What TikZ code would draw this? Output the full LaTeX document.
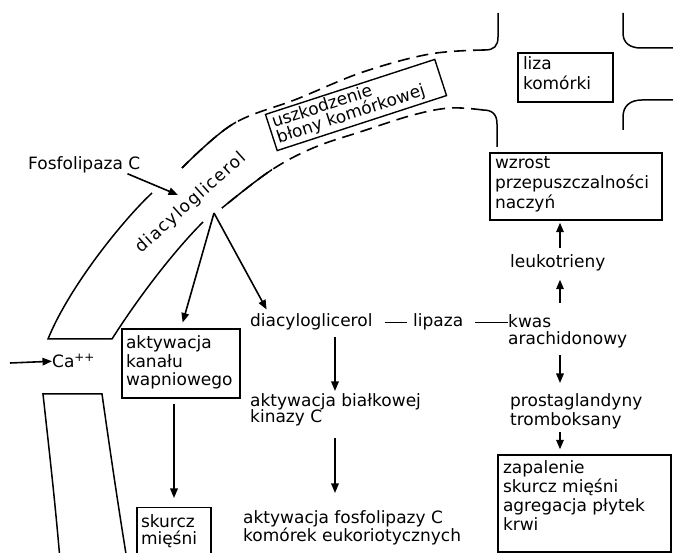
\documentclass[tikz,border=0pt]{standalone}
\usepackage{fontspec}
\setmainfont{DejaVu Sans}
\usetikzlibrary{arrows.meta}
\newcommand\bxt[4]{\parbox[c][#2][t]{#1}{\raggedright\fontsize{17pt}{#3}\selectfont #4\par}}
\begin{document}
\begin{tikzpicture}[x=1pt,y=-1pt,
  every node/.style={font=\fontsize{17pt}{18.5pt}\selectfont, inner sep=0pt},
  arr/.style={-{Triangle[length=9.5pt,width=7.5pt]}, line width=1.6pt},
  ln/.style={line width=1.5pt},
  dsh/.style={line width=1.6pt, dash pattern=on 12pt off 7pt},
  bx/.style={draw, line width=1.4pt, inner xsep=5pt, inner ysep=4pt},
  txt/.style={align=left, anchor=north west}]
\useasboundingbox (0,0) rectangle (673,553);
% membrane, outer
\draw[ln] (498,13) -- (498,37) .. controls (498,46) and (494,50) .. (485,50);
\draw[dsh] plot[smooth, tension=0.6] coordinates {(485,50) (430,54) (363,72) (297,99) (233,124) (182,168)};
\begin{scope}
\clip (0,100) rectangle (236,200);
\draw[ln] plot[smooth, tension=0.6] coordinates {(485,50) (430,54) (363,72) (297,99) (233,124) (182,168)};
\end{scope}
\draw[ln] (152,193) .. controls (125,218) and (70,285) .. (48,339) -- (112,339) .. controls (140,295) and (175,250) .. (203,222);
% membrane, inner
\draw[ln] (497,147) -- (497,124) .. controls (497,114) and (492,110) .. (483,110);
\draw[dsh] plot[smooth, tension=0.6] coordinates {(483,110) (450,108) (413,115) (363,131) (313,148) (270,171) (222,208)};
\begin{scope}
\clip (0,160) rectangle (272,260);
\draw[ln] plot[smooth, tension=0.6] coordinates {(483,110) (450,108) (413,115) (363,131) (313,148) (270,171) (222,208)};
\end{scope}
% lower band
\draw[ln] (60,560) .. controls (55,500) and (48,440) .. (43,394) -- (102,394) .. controls (110,450) and (118,505) .. (127,560);
% right membrane
\draw[ln] (623,13) -- (623,33) .. controls (623,43) and (630,48) .. (641,48) -- (675,48);
\draw[ln] (623,130) -- (623,117) .. controls (623,106) and (630,100) .. (642,100) -- (675,100);

% nodes
\node[anchor=base west] (fosf) at (28,170) {Fosfolipaza C};
\node[rotate=42] (dgr) at (191,203) {\addfontfeature{LetterSpace=8}diacyloglicerol};
\node[bx, rotate=18, inner xsep=4pt, inner ysep=2.5pt] (usz) at (356,105) {\bxt{170pt}{33pt}{16pt}{uszkodzenie\\błony komórkowej}};
\node[bx] (liza) at (565.5,77.5) {\bxt{85pt}{41pt}{20pt}{liza\\komórki}};
\node[bx] (wzr) at (576,186.5) {\bxt{162pt}{59pt}{20pt}{wzrost\\przepuszczalności\\naczyń}};
\node[anchor=base west] (leuk) at (510,268) {leukotrieny};
\node[txt, font=\fontsize{17pt}{17pt}\selectfont] (kwas) at (508,314) {kwas\\arachidonowy};
\node[txt, font=\fontsize{17pt}{19pt}\selectfont] (prost) at (510,393) {prostaglandyny\\tromboksany};
\node[bx, inner ysep=6pt] (zap) at (584.5,503.5) {\bxt{163pt}{85pt}{18.7pt}{zapalenie\\skurcz mięśni\\agregacja płytek\\krwi}};
\node[anchor=base west] (dg2) at (250,327) {diacyloglicerol};
\node[anchor=base west] (lip) at (413,327) {lipaza};
\node[txt, font=\fontsize{17pt}{16.5pt}\selectfont] (bialk) at (250,393) {aktywacja białkowej\\kinazy C};
\node[txt, font=\fontsize{17pt}{17pt}\selectfont] (fosfC) at (243,510) {aktywacja fosfolipazy C\\komórek eukoriotycznych};
\node[bx, inner xsep=4pt, inner ysep=7pt] (kanal) at (181,363.5) {\bxt{110pt}{55pt}{18.5pt}{aktywacja\\kanału\\wapniowego}};
\node[bx, inner xsep=4pt, inner ysep=7pt, anchor=north] (skurcz) at (174,507) {\bxt{66pt}{55pt}{16.5pt}{skurcz\\mięśni}};
\node[anchor=base west] (ca) at (52,368) {Ca\textsuperscript{++}};

% coordinates
\coordinate (dgin) at (178,195);
\coordinate (dgsrc) at (214,213);
\coordinate (castart) at (10,363);
\coordinate (ax) at (335,0);
\coordinate (rx) at (560,0);

% connectors
\draw[arr] ([xshift=-13pt]fosf.south east) -- (dgin);
\draw[arr, shorten >=6pt] (dgsrc) -- (kanal.north);
\draw[arr, shorten >=5pt] (dgsrc) -- ([xshift=19pt]dg2.north west);
\draw[arr, shorten <=5pt, shorten >=9pt] (kanal.south -| skurcz.north) -- (skurcz.north);
\draw[ln, shorten <=12pt, shorten >=6pt] (dg2.east) -- (lip.west);
\draw[ln, shorten <=12pt] (lip.east) -- (lip.east -| kwas.west);
\draw[arr, shorten <=6pt, shorten >=2pt] (dg2.south -| ax) -- (bialk.north -| ax);
\draw[arr, shorten <=12pt, shorten >=17pt] (bialk.south -| ax) -- (fosfC.north -| ax);
\draw[arr, shorten <=11pt, shorten >=8pt] (kwas.north -| rx) -- (leuk.south -| rx);
\draw[arr, shorten <=7pt, shorten >=2pt] (leuk.north -| rx) -- (wzr.south -| rx);
\draw[arr, shorten <=7pt, shorten >=10pt] (kwas.south -| rx) -- (prost.north -| rx);
\draw[arr, shorten <=3pt, shorten >=5pt] (prost.south -| rx) -- (zap.north -| rx);
\draw[arr] (castart) -- (ca.west);
\end{tikzpicture}
\end{document}
